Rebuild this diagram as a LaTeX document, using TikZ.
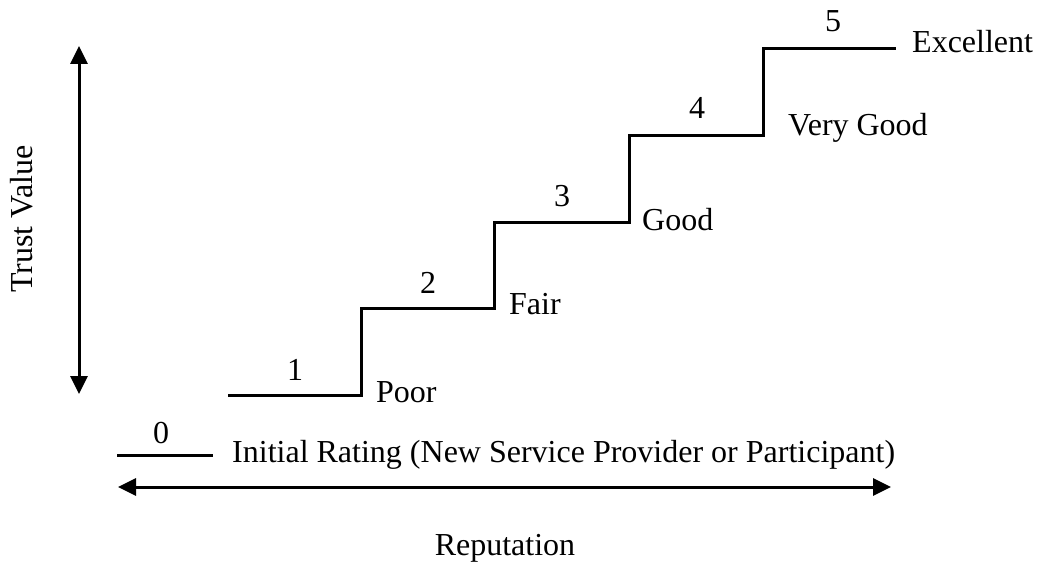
\documentclass[tikz,border=0pt]{standalone}
\usepackage{fontspec}
\setmainfont{Liberation Serif}
\usetikzlibrary{arrows.meta}
\begin{document}
\begin{tikzpicture}[x=1pt,y=-1pt,
  stair/.style={line width=3pt,line cap=butt,line join=miter},
  axis/.style={line width=3pt,{Triangle[width=17pt,length=18pt]}-{Triangle[width=17pt,length=18pt]}},
  lbl/.style={inner sep=0pt,font=\fontsize{32}{38}\selectfont},
  lvl/.style={lbl,anchor=west}]
\useasboundingbox (0,0) rectangle (1039,569);
% Level 0
\coordinate (z0) at (117,455);
\coordinate (z1) at (213,455);
\draw[stair] (z0) -- (z1);
\node[lbl] (n0) at (161,433) {0};
\node[lvl] (t0) at (232,455) {Initial Rating (New Service Provider or Participant)};
% Stairs
\coordinate (a0) at (228,395);
\coordinate (a1) at (361,395);
\coordinate (b0) at (361,309);
\coordinate (b1) at (494,309);
\coordinate (c0) at (494,223);
\coordinate (c1) at (629,223);
\coordinate (d0) at (629,136);
\coordinate (d1) at (763,136);
\coordinate (e0) at (763,49);
\coordinate (e1) at (896,49);
\draw[stair] (a0) -- (a1) -- (b0) -- (b1) -- (c0) -- (c1) -- (d0) -- (d1) -- (e0) -- (e1);
\node[lbl] (n1) at (295,370) {1};
\node[lbl] (n2) at (428,283) {2};
\node[lbl] (n3) at (562,196) {3};
\node[lbl] (n4) at (697,108) {4};
\node[lbl] (n5) at (833,21) {5};
\node[lvl] (t1) at (376,392) {Poor};
\node[lvl] (t2) at (509,304) {Fair};
\node[lvl] (t3) at (642,220) {Good};
\node[lvl] (t4) at (788,128) {Very Good};
\node[lvl] (t5) at (912,42) {Excellent};
% Axes
\coordinate (v0) at (79,46);
\coordinate (v1) at (79,394);
\draw[axis] (v0) -- (v1);
\node[lbl,rotate=90] (tv) at (22,219) {Trust Value};
\coordinate (h0) at (118,487);
\coordinate (h1) at (891,487);
\draw[axis] (h0) -- (h1);
\node[lbl] (rep) at (505,548) {Reputation};
\end{tikzpicture}
\end{document}
